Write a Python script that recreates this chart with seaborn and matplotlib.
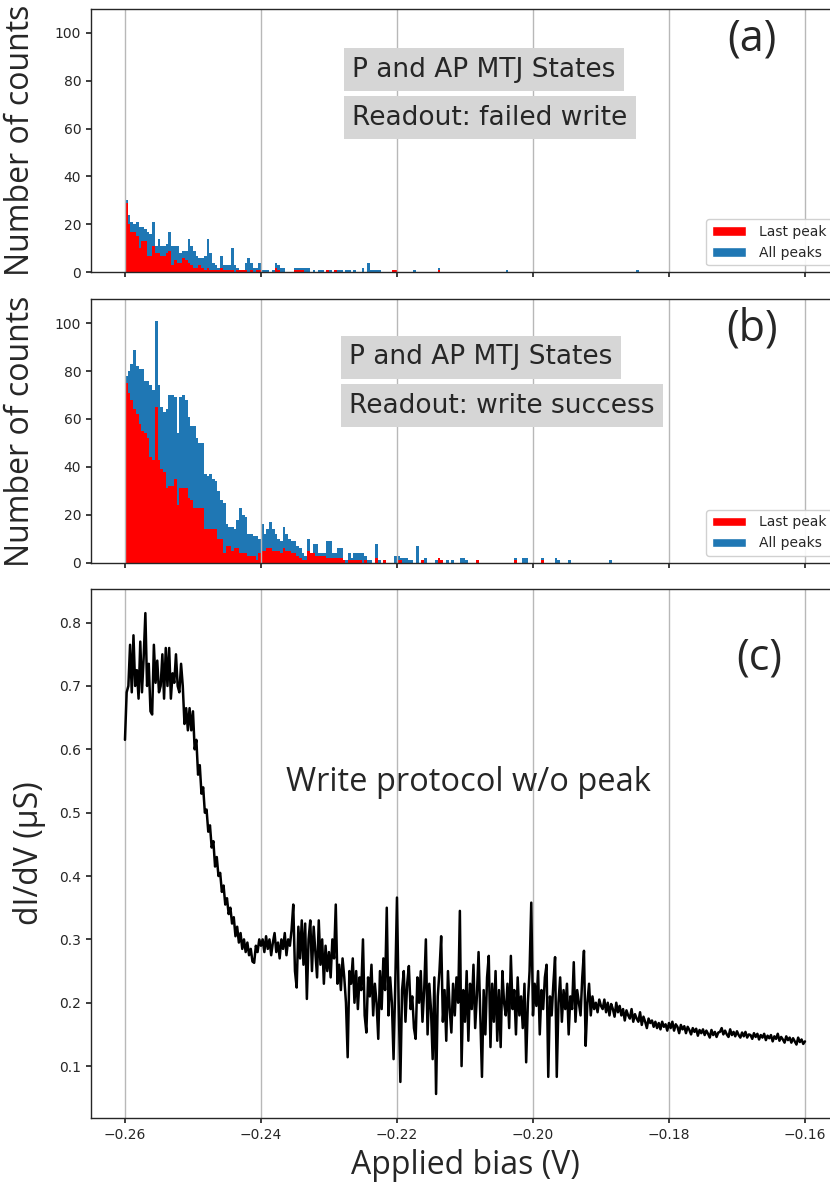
import numpy as np
import matplotlib
matplotlib.use("Agg")
import matplotlib.pyplot as plt
import seaborn as sns
from matplotlib.patches import Patch

# ---------------------------------------------------------------- data
# histogram bins: 0.4 mV wide, -0.26 V ... -0.184 V
N_BINS = 190
BIN_RANGE = (-0.26, -0.184)

# (a) readout: failed write
a_all_peaks = [
    30, 24, 21, 20, 21, 19, 19, 18, 17, 16,
    21, 11, 14, 11, 11, 12, 17, 11, 11, 11,
    8, 9, 9, 14, 11, 9, 7, 6, 6, 7,
    14, 8, 4, 3, 2, 7, 3, 3, 3, 10,
    3, 2, 1, 1, 4, 6, 4, 2, 2, 4,
    1, 1, 1, 0, 1, 4, 3, 2, 2, 0,
    0, 0, 2, 2, 2, 2, 2, 2, 0, 1,
    0, 1, 1, 0, 1, 1, 0, 1, 1, 1,
    0, 1, 1, 0, 1, 0, 0, 2, 0, 4,
    1, 1, 1, 1, 0, 0, 0, 0, 1, 1,
    0, 0, 0, 0, 0, 0, 1, 0, 0, 0,
    0, 0, 0, 0, 0, 2, 0, 0, 0, 0,
    0, 0, 0, 0, 0, 0, 0, 0, 0, 0,
    0, 0, 0, 0, 0, 0, 0, 0, 0, 0,
    1, 0, 0, 0, 0, 0, 0, 0, 0, 0,
    0, 0, 0, 0, 0, 0, 0, 0, 0, 0,
    0, 0, 0, 0, 0, 0, 0, 0, 0, 0,
    0, 0, 0, 0, 0, 0, 0, 0, 0, 0,
    0, 0, 0, 0, 0, 0, 0, 0, 1, 0,
]
a_last_peak = [
    29, 20, 17, 17, 15, 10, 13, 13, 7, 7,
    11, 8, 8, 7, 7, 8, 9, 3, 5, 4,
    4, 6, 5, 4, 3, 2, 2, 3, 2, 1,
    2, 1, 1, 1, 1, 2, 1, 1, 1, 1,
    0, 1, 1, 1, 1, 0, 1, 0, 1, 1,
    0, 0, 0, 0, 0, 2, 1, 0, 0, 0,
    0, 0, 1, 1, 1, 1, 0, 0, 0, 0,
    0, 0, 0, 0, 1, 0, 0, 1, 0, 0,
    0, 0, 0, 0, 0, 0, 0, 0, 0, 0,
    0, 0, 0, 0, 0, 0, 0, 0, 1, 1,
    0, 0, 0, 0, 0, 0, 0, 0, 0, 0,
    0, 0, 0, 0, 0, 1, 0, 0, 0, 0,
    0, 0, 0, 0, 0, 0, 0, 0, 0, 0,
    0, 0, 0, 0, 0, 0, 0, 0, 0, 0,
    0, 0, 0, 0, 0, 0, 0, 0, 0, 0,
    0, 0, 0, 0, 0, 0, 0, 0, 0, 0,
    0, 0, 0, 0, 0, 0, 0, 0, 0, 0,
    0, 0, 0, 0, 0, 0, 0, 0, 0, 0,
    0, 0, 0, 0, 0, 0, 0, 0, 0, 0,
]

# (b) readout: write success
b_all_peaks = [
    78, 80, 83, 89, 82, 81, 81, 76, 76, 74,
    72, 101, 74, 65, 63, 64, 70, 70, 69, 54,
    69, 70, 68, 61, 57, 57, 52, 50, 50, 37,
    36, 37, 35, 34, 30, 26, 25, 16, 15, 15,
    14, 18, 23, 20, 19, 12, 12, 11, 11, 10,
    16, 12, 14, 17, 14, 12, 10, 9, 15, 12,
    10, 9, 9, 7, 6, 4, 3, 10, 4, 8,
    8, 4, 4, 4, 9, 9, 4, 4, 6, 6,
    1, 1, 4, 2, 4, 4, 4, 4, 3, 1,
    1, 0, 8, 1, 0, 1, 0, 0, 0, 3,
    3, 2, 2, 2, 1, 1, 0, 7, 0, 1,
    2, 0, 0, 0, 1, 2, 1, 0, 1, 0,
    1, 0, 0, 2, 2, 1, 0, 0, 0, 1,
    0, 0, 0, 0, 0, 0, 0, 0, 0, 0,
    0, 0, 0, 2, 0, 0, 2, 2, 0, 0,
    0, 0, 0, 2, 0, 0, 0, 0, 2, 1,
    0, 0, 0, 1, 0, 0, 0, 0, 0, 0,
    0, 0, 0, 0, 0, 0, 0, 0, 1, 0,
    0, 0, 0, 0, 0, 0, 0, 0, 0, 0,
]
b_last_peak = [
    75, 71, 68, 64, 62, 58, 55, 54, 52, 44,
    43, 65, 43, 39, 38, 31, 32, 32, 35, 24,
    31, 31, 31, 27, 26, 23, 23, 23, 23, 14,
    14, 14, 14, 14, 10, 10, 4, 7, 7, 5,
    6, 6, 4, 4, 4, 3, 3, 3, 1, 4,
    5, 5, 6, 6, 5, 5, 5, 4, 6, 5,
    5, 4, 4, 3, 2, 1, 1, 5, 4, 4,
    3, 3, 3, 3, 2, 2, 2, 2, 2, 2,
    1, 0, 1, 1, 1, 1, 1, 0, 1, 0,
    0, 0, 2, 0, 0, 1, 0, 0, 0, 0,
    1, 1, 0, 0, 0, 0, 0, 0, 0, 1,
    0, 0, 0, 0, 0, 2, 1, 0, 0, 0,
    0, 0, 0, 0, 0, 0, 0, 0, 0, 1,
    0, 0, 0, 0, 0, 0, 0, 0, 0, 0,
    0, 0, 0, 1, 0, 0, 0, 0, 0, 0,
    0, 0, 0, 1, 0, 0, 0, 0, 0, 0,
    0, 0, 0, 0, 0, 0, 0, 0, 0, 0,
    0, 0, 0, 0, 0, 0, 0, 0, 0, 0,
    0, 0, 0, 0, 0, 0, 0, 0, 0, 0,
]

# (c) differential conductance sweep, -0.26 V ... -0.16 V (401 points)
didv_uS = [
    0.615, 0.690, 0.700, 0.765, 0.690, 0.780, 0.700, 0.725, 0.680, 0.770,
    0.690, 0.745, 0.815, 0.700, 0.735, 0.660, 0.655, 0.765, 0.705, 0.740,
    0.690, 0.700, 0.750, 0.680, 0.760, 0.700, 0.760, 0.680, 0.720, 0.705,
    0.750, 0.700, 0.690, 0.735, 0.700, 0.640, 0.665, 0.630, 0.665, 0.630,
    0.660, 0.600, 0.615, 0.560, 0.575, 0.530, 0.540, 0.500, 0.505, 0.470,
    0.480, 0.445, 0.455, 0.415, 0.430, 0.400, 0.405, 0.375, 0.385, 0.355,
    0.365, 0.340, 0.350, 0.325, 0.335, 0.305, 0.320, 0.295, 0.310, 0.285,
    0.300, 0.280, 0.295, 0.275, 0.285, 0.265, 0.263, 0.290, 0.280, 0.300,
    0.290, 0.300, 0.280, 0.305, 0.285, 0.300, 0.275, 0.295, 0.310, 0.280,
    0.295, 0.270, 0.300, 0.285, 0.310, 0.275, 0.300, 0.290, 0.315, 0.355,
    0.250, 0.224, 0.320, 0.270, 0.330, 0.260, 0.325, 0.206, 0.300, 0.330,
    0.250, 0.320, 0.280, 0.240, 0.330, 0.260, 0.300, 0.230, 0.290, 0.250,
    0.280, 0.240, 0.300, 0.270, 0.355, 0.230, 0.260, 0.220, 0.270, 0.240,
    0.200, 0.114, 0.250, 0.230, 0.270, 0.200, 0.250, 0.190, 0.240, 0.220,
    0.300, 0.180, 0.153, 0.240, 0.210, 0.260, 0.180, 0.230, 0.200, 0.143,
    0.250, 0.190, 0.270, 0.220, 0.350, 0.180, 0.240, 0.200, 0.111, 0.230,
    0.366, 0.200, 0.075, 0.220, 0.250, 0.170, 0.230, 0.258, 0.190, 0.210,
    0.160, 0.143, 0.240, 0.200, 0.250, 0.170, 0.220, 0.300, 0.150, 0.230,
    0.190, 0.111, 0.240, 0.056, 0.210, 0.250, 0.305, 0.170, 0.220, 0.140,
    0.250, 0.190, 0.153, 0.230, 0.180, 0.240, 0.200, 0.345, 0.100, 0.220,
    0.170, 0.250, 0.140, 0.230, 0.190, 0.260, 0.160, 0.210, 0.280, 0.180,
    0.083, 0.220, 0.150, 0.240, 0.274, 0.130, 0.230, 0.170, 0.250, 0.140,
    0.220, 0.130, 0.250, 0.200, 0.180, 0.230, 0.160, 0.274, 0.190, 0.220,
    0.150, 0.240, 0.180, 0.210, 0.160, 0.230, 0.106, 0.200, 0.250, 0.358,
    0.180, 0.230, 0.195, 0.250, 0.150, 0.220, 0.190, 0.240, 0.260, 0.083,
    0.210, 0.180, 0.230, 0.272, 0.083, 0.200, 0.240, 0.170, 0.220, 0.190,
    0.230, 0.150, 0.210, 0.190, 0.264, 0.170, 0.220, 0.200, 0.180, 0.240,
    0.282, 0.132, 0.200, 0.230, 0.180, 0.210, 0.190, 0.200, 0.185, 0.205,
    0.195, 0.190, 0.205, 0.185, 0.200, 0.180, 0.198, 0.190, 0.178, 0.200,
    0.185, 0.195, 0.180, 0.190, 0.172, 0.188, 0.180, 0.175, 0.190, 0.170,
    0.182, 0.175, 0.170, 0.185, 0.165, 0.178, 0.170, 0.160, 0.175, 0.168,
    0.172, 0.162, 0.170, 0.160, 0.168, 0.158, 0.170, 0.162, 0.166, 0.156,
    0.168, 0.160, 0.170, 0.156, 0.166, 0.162, 0.152, 0.165, 0.158, 0.163,
    0.152, 0.162, 0.157, 0.150, 0.160, 0.154, 0.159, 0.148, 0.157, 0.152,
    0.158, 0.149, 0.156, 0.151, 0.145, 0.157, 0.149, 0.154, 0.146, 0.153,
    0.154, 0.160, 0.150, 0.156, 0.150, 0.146, 0.158, 0.149, 0.154, 0.147,
    0.155, 0.149, 0.145, 0.153, 0.147, 0.154, 0.145, 0.150, 0.149, 0.143,
    0.152, 0.146, 0.151, 0.142, 0.149, 0.145, 0.151, 0.141, 0.148, 0.144,
    0.149, 0.139, 0.147, 0.143, 0.151, 0.140, 0.146, 0.142, 0.137, 0.147,
    0.141, 0.145, 0.137, 0.144, 0.139, 0.134, 0.145, 0.138, 0.142, 0.135,
    0.139,
]

bias_ticks = [-0.26, -0.24, -0.22, -0.20, -0.18, -0.16]
count_ticks = [0, 20, 40, 60, 80, 100]
didv_ticks = [0.1, 0.2, 0.3, 0.4, 0.5, 0.6, 0.7, 0.8]

# ---------------------------------------------------------------- style
RED = "#ff0000"
BLUE = "#1f77b4"
LABEL_FONT = ["Open Sans", "DejaVu Sans"]
LABEL_SIZE = 23

sns.set_theme(style="white", rc={
    "xtick.bottom": True, "ytick.left": True,
    "xtick.direction": "out", "ytick.direction": "out",
    "xtick.major.size": 3.5, "ytick.major.size": 3.5,
    "axes.edgecolor": "#262626", "axes.linewidth": 1.0,
    "xtick.color": "#262626", "ytick.color": "#262626",
    "xtick.labelsize": 10, "ytick.labelsize": 10,
    "axes.axisbelow": "line",
})
plt.rcParams["font.family"] = ["DejaVu Sans"]

bin_width = (BIN_RANGE[1] - BIN_RANGE[0]) / N_BINS
centers = BIN_RANGE[0] + bin_width * (np.arange(N_BINS) + 0.5)
bias = np.round(np.linspace(-0.26, -0.16, len(didv_uS)), 6)

fig = plt.figure(figsize=(8.3, 11.84), dpi=100)
ax_a = fig.add_axes([0.1096, 0.7700, 0.9012, 0.2226])
ax_b = fig.add_axes([0.1096, 0.5247, 0.9012, 0.2226])
ax_c = fig.add_axes([0.1096, 0.0557, 0.9012, 0.4468])

BOX = dict(boxstyle="square,pad=0.32", facecolor="#d6d6d6", edgecolor="none")


def draw_hist(ax, all_counts, last_counts, line1, line2, y1, y2, x0, tag):
    for counts, colour in ((all_counts, BLUE), (last_counts, RED)):
        sns.histplot(x=centers, weights=np.asarray(counts, dtype=float),
                     bins=N_BINS, binrange=BIN_RANGE, element="step",
                     fill=True, color=colour, alpha=1.0, linewidth=0, ax=ax)
    ax.set_ylim(0, 110)
    ax.set_yticks(count_ticks)
    ax.set_ylabel("Number of counts", fontsize=LABEL_SIZE, family=LABEL_FONT)
    ax.yaxis.set_label_coords(-0.072, 0.5)
    ax.text(x0, y1, line1, transform=ax.transAxes, fontsize=19,
            ha="left", va="center", bbox=BOX)
    ax.text(x0, y2, line2, transform=ax.transAxes, fontsize=19,
            ha="left", va="center", bbox=BOX)
    ax.text(0.884, 0.885, tag, transform=ax.transAxes, fontsize=31,
            ha="center", va="center", family=LABEL_FONT)
    handles = [Patch(facecolor=RED, label="Last peak"),
               Patch(facecolor=BLUE, label="All peaks")]
    ax.legend(handles=handles, loc="lower right", fontsize=10,
              handlelength=2.5, handletextpad=0.9, frameon=True,
              framealpha=0.9, edgecolor="#cccccc")


draw_hist(ax_a, a_all_peaks, a_last_peak, "P and AP MTJ States",
          "Readout: failed write", 0.768, 0.586, 0.349, "(a)")
draw_hist(ax_b, b_all_peaks, b_last_peak, "P and AP MTJ States",
          "Readout: write success", 0.780, 0.595, 0.345, "(b)")

sns.lineplot(x=bias, y=didv_uS, color="black", linewidth=1.8,
             estimator=None, sort=False, ax=ax_c)
ax_c.set_ylim(0.018, 0.853)
ax_c.set_yticks(didv_ticks)
ax_c.set_ylabel("dI/dV (µS)", fontsize=LABEL_SIZE, family=LABEL_FONT)
ax_c.yaxis.set_label_coords(-0.060, 0.5)
ax_c.set_xlabel("Applied bias (V)", fontsize=LABEL_SIZE, family=LABEL_FONT)
ax_c.xaxis.set_label_coords(0.5, -0.058)
ax_c.text(0.504, 0.634, "Write protocol w/o peak", transform=ax_c.transAxes,
          fontsize=23.5, ha="center", va="center", family=LABEL_FONT)
ax_c.text(0.894, 0.870, "(c)", transform=ax_c.transAxes, fontsize=31,
          ha="center", va="center", family=LABEL_FONT)

for ax in (ax_a, ax_b, ax_c):
    ax.set_xlim(-0.265, -0.155)
    ax.set_xticks(bias_ticks)
    ax.grid(axis="x", color="#b8b8b8", linewidth=1.0)
    ax.grid(axis="y", visible=False)
    for s in ax.spines.values():
        s.set_visible(True)
for ax in (ax_a, ax_b):
    ax.tick_params(axis="x", labelbottom=False)
    ax.set_xlabel("")

fig.savefig("out.png", dpi=100)
